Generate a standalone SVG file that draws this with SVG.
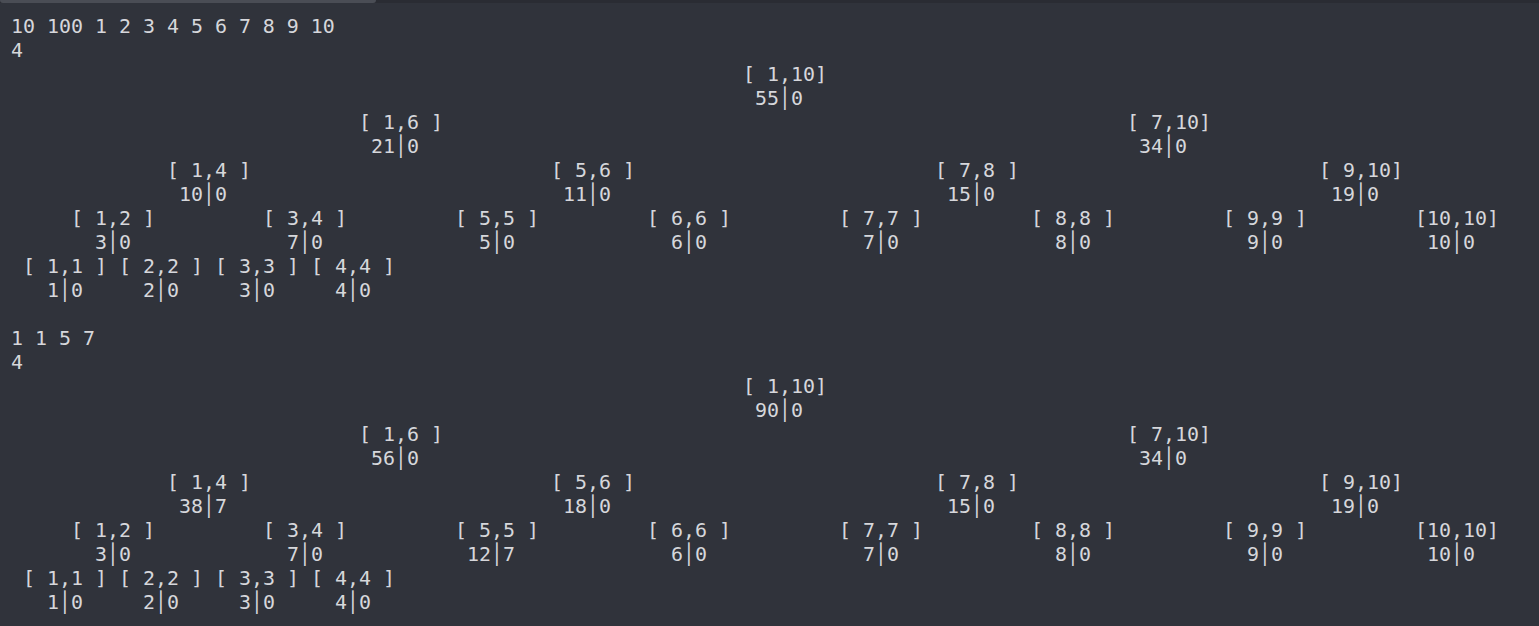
<svg xmlns="http://www.w3.org/2000/svg" width="1539" height="626" viewBox="0 0 1539 626">
<style>
text{font-family:"DejaVu Sans Mono","Liberation Mono",monospace;font-size:19.93px;fill:#d6d7db;white-space:pre}
</style>
<rect x="0" y="0" width="1539" height="626" fill="#30333b"/>
<rect x="0" y="0" width="1539" height="3" fill="#2a2c33"/>
<rect x="0" y="-4" width="376" height="7" rx="3" fill="#4a4d55"/>
<g transform="translate(2,0)">
<g id="header1">
<text x="9" y="33">10 100 1 2 3 4 5 6 7 8 9 10</text>
<text x="9" y="57">4</text>
</g>
<g id="tree1">
<g id="t1-1-10"><text x="741" y="81">[ 1,10]</text><text x="753" y="105">55│0</text></g>
<g id="t1-1-6"><text x="357" y="129">[ 1,6 ]</text><text x="369" y="153">21│0</text></g>
<g id="t1-7-10"><text x="1125" y="129">[ 7,10]</text><text x="1137" y="153">34│0</text></g>
<g id="t1-1-4"><text x="165" y="177">[ 1,4 ]</text><text x="177" y="201">10│0</text></g>
<g id="t1-5-6"><text x="549" y="177">[ 5,6 ]</text><text x="561" y="201">11│0</text></g>
<g id="t1-7-8"><text x="933" y="177">[ 7,8 ]</text><text x="945" y="201">15│0</text></g>
<g id="t1-9-10"><text x="1317" y="177">[ 9,10]</text><text x="1329" y="201">19│0</text></g>
<g id="t1-1-2"><text x="69" y="225">[ 1,2 ]</text><text x="93" y="249">3│0</text></g>
<g id="t1-3-4"><text x="261" y="225">[ 3,4 ]</text><text x="285" y="249">7│0</text></g>
<g id="t1-5-5"><text x="453" y="225">[ 5,5 ]</text><text x="477" y="249">5│0</text></g>
<g id="t1-6-6"><text x="645" y="225">[ 6,6 ]</text><text x="669" y="249">6│0</text></g>
<g id="t1-7-7"><text x="837" y="225">[ 7,7 ]</text><text x="861" y="249">7│0</text></g>
<g id="t1-8-8"><text x="1029" y="225">[ 8,8 ]</text><text x="1053" y="249">8│0</text></g>
<g id="t1-9-9"><text x="1221" y="225">[ 9,9 ]</text><text x="1245" y="249">9│0</text></g>
<g id="t1-10-10"><text x="1413" y="225">[10,10]</text><text x="1425" y="249">10│0</text></g>
<g id="t1-1-1"><text x="21" y="273">[ 1,1 ]</text><text x="45" y="297">1│0</text></g>
<g id="t1-2-2"><text x="117" y="273">[ 2,2 ]</text><text x="141" y="297">2│0</text></g>
<g id="t1-3-3"><text x="213" y="273">[ 3,3 ]</text><text x="237" y="297">3│0</text></g>
<g id="t1-4-4"><text x="309" y="273">[ 4,4 ]</text><text x="333" y="297">4│0</text></g>
</g>
<g id="header2">
<text x="9" y="345">1 1 5 7</text>
<text x="9" y="369">4</text>
</g>
<g id="tree2">
<g id="t2-1-10"><text x="741" y="393">[ 1,10]</text><text x="753" y="417">90│0</text></g>
<g id="t2-1-6"><text x="357" y="441">[ 1,6 ]</text><text x="369" y="465">56│0</text></g>
<g id="t2-7-10"><text x="1125" y="441">[ 7,10]</text><text x="1137" y="465">34│0</text></g>
<g id="t2-1-4"><text x="165" y="489">[ 1,4 ]</text><text x="177" y="513">38│7</text></g>
<g id="t2-5-6"><text x="549" y="489">[ 5,6 ]</text><text x="561" y="513">18│0</text></g>
<g id="t2-7-8"><text x="933" y="489">[ 7,8 ]</text><text x="945" y="513">15│0</text></g>
<g id="t2-9-10"><text x="1317" y="489">[ 9,10]</text><text x="1329" y="513">19│0</text></g>
<g id="t2-1-2"><text x="69" y="537">[ 1,2 ]</text><text x="93" y="561">3│0</text></g>
<g id="t2-3-4"><text x="261" y="537">[ 3,4 ]</text><text x="285" y="561">7│0</text></g>
<g id="t2-5-5"><text x="453" y="537">[ 5,5 ]</text><text x="465" y="561">12│7</text></g>
<g id="t2-6-6"><text x="645" y="537">[ 6,6 ]</text><text x="669" y="561">6│0</text></g>
<g id="t2-7-7"><text x="837" y="537">[ 7,7 ]</text><text x="861" y="561">7│0</text></g>
<g id="t2-8-8"><text x="1029" y="537">[ 8,8 ]</text><text x="1053" y="561">8│0</text></g>
<g id="t2-9-9"><text x="1221" y="537">[ 9,9 ]</text><text x="1245" y="561">9│0</text></g>
<g id="t2-10-10"><text x="1413" y="537">[10,10]</text><text x="1425" y="561">10│0</text></g>
<g id="t2-1-1"><text x="21" y="585">[ 1,1 ]</text><text x="45" y="609">1│0</text></g>
<g id="t2-2-2"><text x="117" y="585">[ 2,2 ]</text><text x="141" y="609">2│0</text></g>
<g id="t2-3-3"><text x="213" y="585">[ 3,3 ]</text><text x="237" y="609">3│0</text></g>
<g id="t2-4-4"><text x="309" y="585">[ 4,4 ]</text><text x="333" y="609">4│0</text></g>
</g>
</g>
<g id="connectors"/>
</svg>
